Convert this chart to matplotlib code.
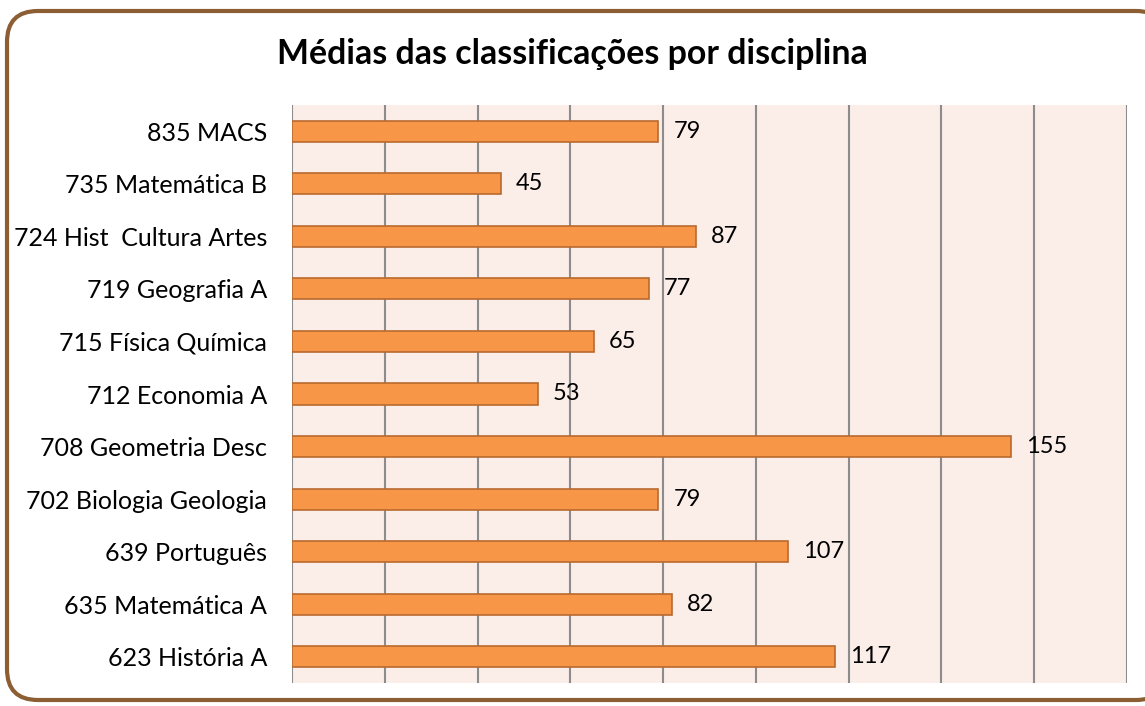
import matplotlib.pyplot as plt
from matplotlib.patches import FancyBboxPatch

disciplinas = ["623 História A", "635 Matemática A", "639 Português",
               "702 Biologia Geologia", "708 Geometria Desc", "712 Economia A",
               "715 Física Química", "719 Geografia A", "724 Hist  Cultura Artes",
               "735 Matemática B", "835 MACS"]
medias = [117, 82, 107, 79, 155, 53, 65, 77, 87, 45, 79]
x_ticks = list(range(0, 181, 20))

plt.rcParams['font.family'] = ['Lato', 'DejaVu Sans']

fig = plt.figure(figsize=(11.45, 7.06), dpi=100)

# rounded chart frame, right side runs past the edge
frame = FancyBboxPatch((7 / 1145, 6 / 706), 1160 / 1145, 689 / 706,
                       boxstyle="round,pad=0,rounding_size=0.027",
                       transform=fig.transFigure, facecolor="white",
                       edgecolor="#8B5E34", linewidth=3, zorder=-5,
                       mutation_aspect=1145 / 706)
fig.patches.append(frame)

ax = fig.add_axes([292 / 1145, 1 - 683 / 706, (1127 - 292) / 1145, (683 - 105) / 706])
ax.set_zorder(2)
ax.set_facecolor("#FBEDE8")

ypos = range(len(disciplinas))
ax.barh(ypos, medias, height=0.4, color="#F79646", edgecolor="#B86A2E",
        linewidth=1.2, zorder=3)
for y, v in zip(ypos, medias):
    ax.text(v + 3.2, y, str(v), va="center", ha="left", fontsize=17, zorder=4)

ax.set_xlim(x_ticks[0], x_ticks[-1])
ax.set_ylim(-0.5, len(disciplinas) - 0.5)
ax.set_xticks(x_ticks)
ax.set_xticklabels([])
ax.set_yticks(list(ypos))
ax.set_yticklabels(disciplinas, fontsize=18)
ax.tick_params(axis="both", length=0, pad=18)
ax.grid(axis="x", color="#8C8C8C", linewidth=1.5, zorder=1)
for s in ax.spines.values():
    s.set_visible(False)

fig.text(0.5, 1 - 54 / 706, "Médias das classificações por disciplina",
         ha="center", va="center", fontsize=24.4, fontweight="bold")

fig.savefig("out.png", dpi=100)
